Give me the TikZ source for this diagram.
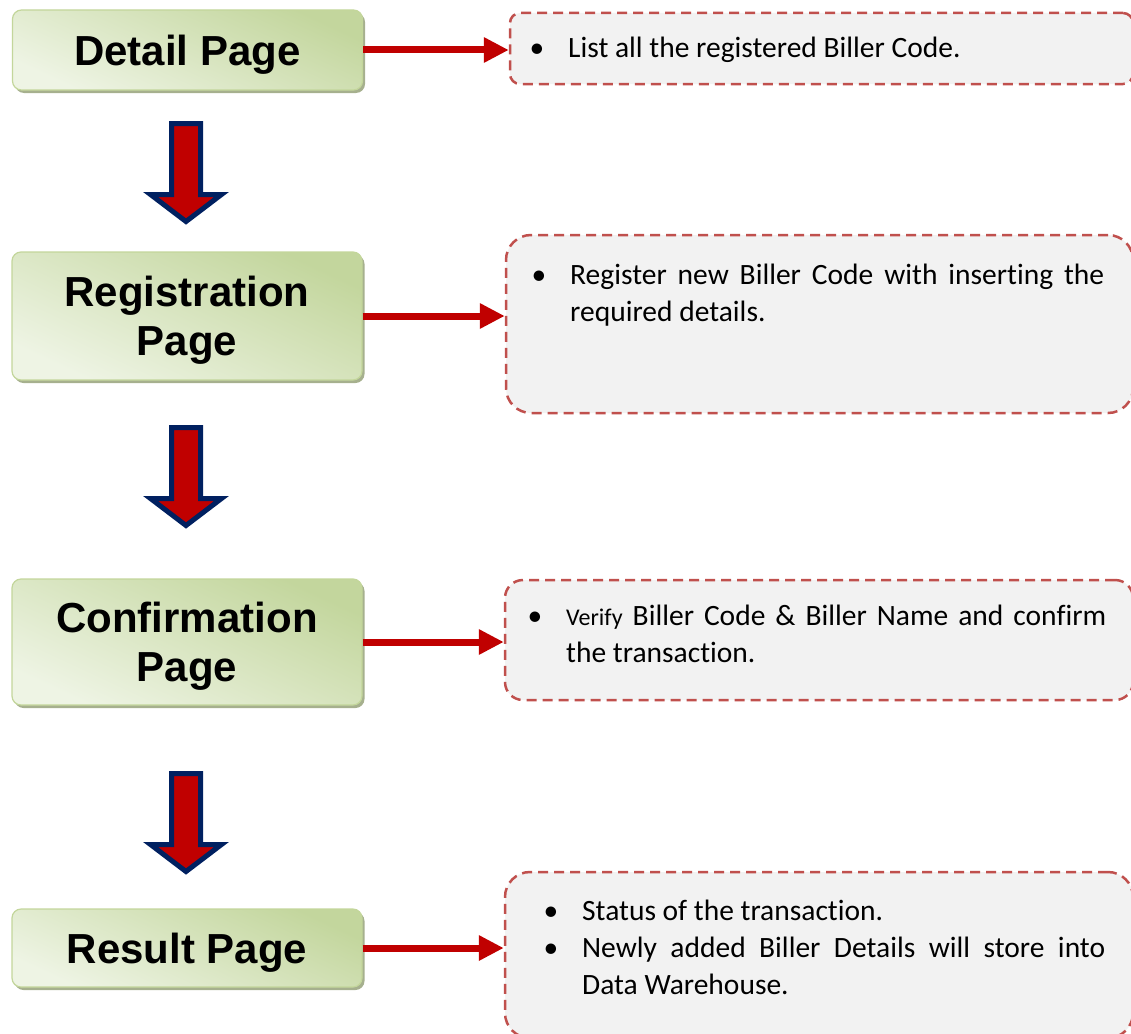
\documentclass[tikz,border=0pt]{standalone}
\usepackage{fontspec}
\setmainfont{Carlito}[Ligatures={NoCommon,NoContextual}]
\newfontfamily\arialfont{Liberation Sans}
\usetikzlibrary{arrows.meta,shadows}
\definecolor{gd}{HTML}{C3D69D}
\definecolor{gl}{HTML}{EEF4E4}
\definecolor{gborder}{HTML}{C3D69B}
\definecolor{gshadow}{HTML}{A6B08E}
\definecolor{dred}{HTML}{C00000}
\definecolor{navy}{HTML}{002060}
\definecolor{dashred}{HTML}{C0504D}
\definecolor{boxgray}{HTML}{F2F2F2}
\newcommand\bulitem{\leavevmode\llap{•\hskip 24pt\relax}}
\tolerance=9999
\hyphenpenalty=10000
\begin{document}
\begin{tikzpicture}[x=1pt,y=-1pt,
  pagebox/.style={rounded corners=9pt, draw=gborder, line width=1.2pt,
    top color=gd, bottom color=gl, shading angle=-25,
    minimum width=350pt, inner sep=0pt, align=center, text depth=0pt,
    font=\arialfont\bfseries\fontsize{42}{49}\selectfont,
    drop shadow={shadow xshift=2.5pt, shadow yshift=-3pt, fill=gshadow, opacity=1}},
  infobox/.style={draw=dashred, line width=2.5pt, dash pattern=on 10pt off 6pt, fill=boxgray, inner sep=0pt},
  infotext/.style={anchor=base west, inner sep=0pt, align=justify,
    font=\fontsize{29.5}{37}\selectfont},
  link/.style={draw=dred, line width=7pt, -{Triangle[length=25pt,width=24pt]}},
  blockarr/.style={draw=navy, fill=dred, line width=5pt, line join=miter},
  downarr/.pic={\draw[blockarr] (-14.5,0) -- (-14.5,71) -- (-35.5,71) -- (0,98) -- (35.5,71) -- (14.5,71) -- (14.5,0) -- cycle;}
]
\useasboundingbox (0,0) rectangle (1131,1033);

% right info boxes
\node[infobox, rounded corners=10pt, minimum width=623pt, minimum height=71pt] (i1) at (821.5,48.5) {};
\node[infobox, rounded corners=25pt, minimum width=627pt, minimum height=178pt] (i2) at (819.5,324) {};
\node[infobox, rounded corners=18pt, minimum width=628pt, minimum height=120pt] (i3) at (819,640) {};
\node[infobox, rounded corners=25pt, minimum width=628pt, minimum height=166pt] (i4) at (819,955) {};

% left page boxes
\node[pagebox, minimum height=80pt] (p1) at (187.5,50) {Detail Page};
\node[pagebox, minimum height=128pt] (p2) at (187,316) {Registration\\Page};
\node[pagebox, minimum height=126pt] (p3) at (187,642) {Confirmation\\Page};
\node[pagebox, minimum height=78pt] (p4) at (187,948) {Result Page};

% texts
\node[infotext, text width=400pt] (t1) at (568,57) {\bulitem List all the registered Biller Code.};
\node[infotext, text width=534pt] (t2) at (570,284) {\bulitem Register new Biller Code with inserting the required details.};
\node[infotext, text width=540pt] (t3) at (566,625) {\bulitem{\fontsize{24}{37}\selectfont Verify} Biller Code \& Biller Name and confirm\linebreak the transaction.};
\node[infotext, text width=523pt] (t4) at (582,920) {\bulitem Status of the transaction.\\
\bulitem Newly added Biller Details will store into\linebreak Data Warehouse.};

% connectors
\draw[link] (p1.east) -- (p1.east -| i1.west);
\draw[link] (p2.east) -- (p2.east -| i2.west);
\draw[link] (p3.east) -- (p3.east -| i3.west);
\draw[link] (p4.east) -- (p4.east -| i4.west);

% block arrows
\pic at (186,123.5) {downarr};
\pic at (186,427.5) {downarr};
\pic at (186,773.5) {downarr};
\end{tikzpicture}
\end{document}
